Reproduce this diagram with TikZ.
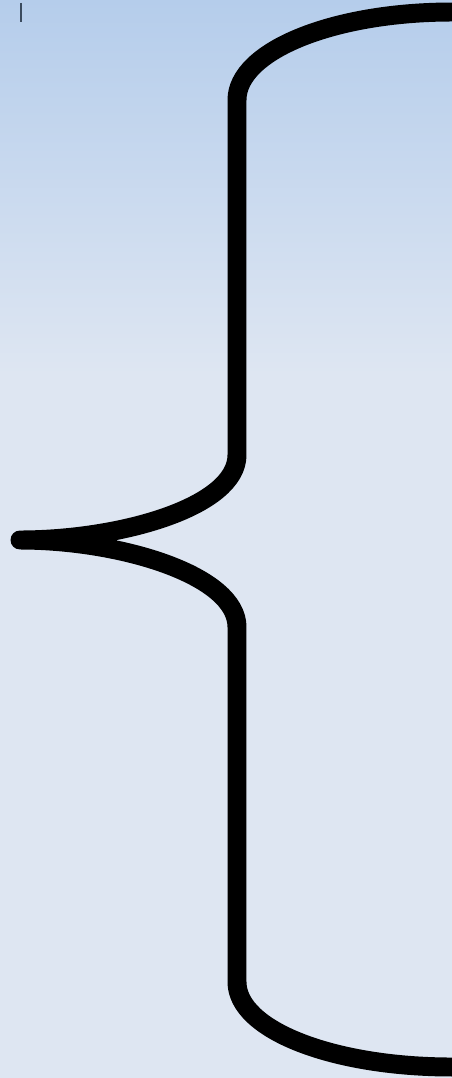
\documentclass[tikz,border=0pt]{standalone}
\definecolor{SkyTop}{HTML}{B5CDEB}
\definecolor{SkyPale}{HTML}{DEE6F2}
\definecolor{CaretGrey}{HTML}{3B4B5E}

\begin{document}
\begin{tikzpicture}[x=0.02cm,y=-0.02cm]
  % background
  \fill[SkyPale] (0,0) rectangle (452,1078);
  \shade[top color=SkyTop,bottom color=SkyPale] (0,0) rectangle (452,375);
  \useasboundingbox (0,0) rectangle (452,1078);
  % caret
  \draw[CaretGrey,line width=0.8pt] (21,3) -- (21,22);
  % brace
  \coordinate (top) at (452,12);
  \coordinate (tip) at (20,540);
  \coordinate (bottom) at (452,1067);
  \draw[line width=10.8pt,line cap=round,line join=round]
    (top) .. controls (333,12) and (237,51) .. (237,100)
    -- (237,455) .. controls (237,507) and (120,540) .. (tip)
    .. controls (120,540) and (237,575) .. (237,627)
    -- (237,982) .. controls (237,1030) and (333,1067) .. (bottom);
\end{tikzpicture}
\end{document}
